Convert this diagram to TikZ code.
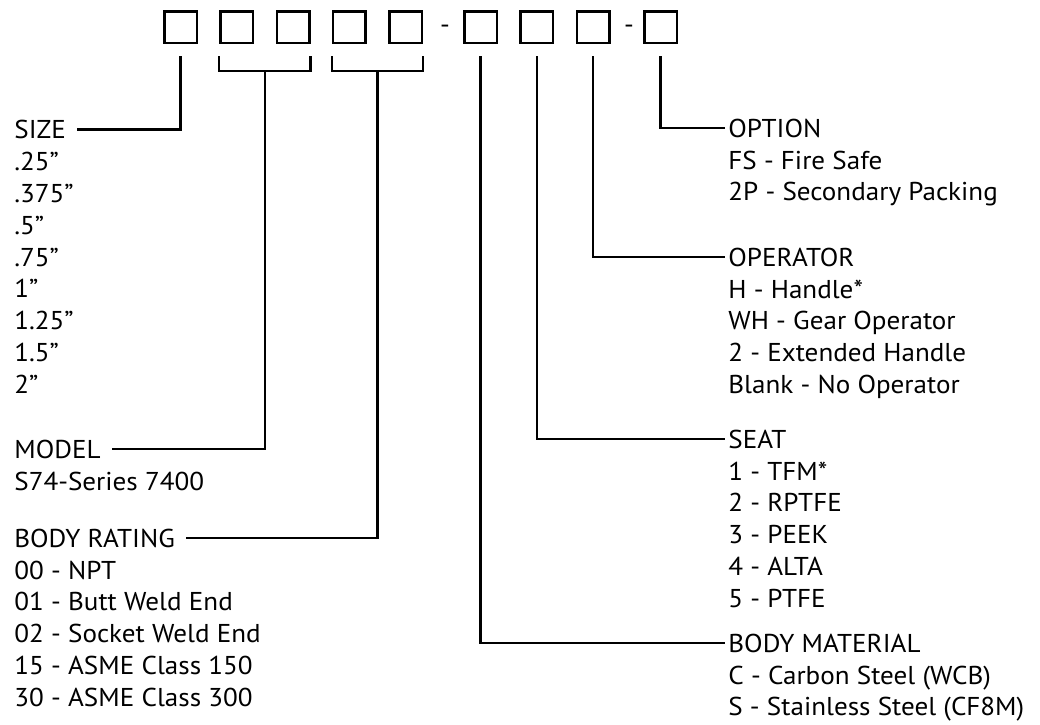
\documentclass[tikz,border=0pt]{standalone}
\usepackage{fontspec}
\setmainfont{PT Sans}[FakeStretch=1.05]
\usetikzlibrary{calc}

\begin{document}
\begin{tikzpicture}[x=.5pt, y=-.5pt,
    font=\fontsize{12.9pt}{15.9pt}\selectfont,
    digit/.style={draw, line width=1.25pt, minimum width=16.25pt,
      minimum height=15.75pt, inner sep=0pt},
    lead/.style={line width=1.2pt},
    headL/.style={anchor=base west, inner xsep=5.5pt, inner ysep=0pt},
    headR/.style={anchor=base west, inner xsep=1.5pt, inner ysep=0pt},
    entries/.style={anchor=north west, align=left, inner sep=0pt}]
  \useasboundingbox (0,0) rectangle (1040,724);
  % code boxes
  \foreach \n/\x in {1/180.5, 2/236.75, 3/293, 4/349.25, 5/405.5,
                     6/480.5, 7/536.75, 8/593, 9/660.5}
    \node[digit] (b\n) at (\x,27) {};
  \node[anchor=base] (dash1) at (445,33) {-};
  \node[anchor=base] (dash2) at (629,33) {-};

  % left side
  \node[headL] (size) at (3,138.5) {SIZE};
  \node[entries] (sizes) at ([xshift=5.5pt,yshift=-4.75pt]size.base west)
    {\strut.25''\\ .375''\\ .5''\\ .75''\\ 1''\\ 1.25''\\ 1.5''\\ 2''};
  \node[headL] (model) at (3,458) {MODEL};
  \node[entries] (models) at ([xshift=5.5pt,yshift=-4.75pt]model.base west)
    {\strut S74-Series 7400};
  \node[headL] (rating) at (3,547) {BODY RATING};
  \node[entries] (ratings) at ([xshift=5.5pt,yshift=-4.75pt]rating.base west)
    {\strut 00 - NPT\\ 01 - Butt Weld End\\ 02 - Socket Weld End\\
     15 - ASME Class 150\\ 30 - ASME Class 300};

  % right side
  \node[headR] (option) at (725,137) {OPTION};
  \node[entries] (options) at ([xshift=1.5pt,yshift=-4.75pt]option.base west)
    {\strut FS - Fire Safe\\ 2P - Secondary Packing};
  \node[headR] (operator) at (725,266) {OPERATOR};
  \node[entries] (operators) at ([xshift=1.5pt,yshift=-4.75pt]operator.base west)
    {\strut H - Handle*\\ WH - Gear Operator\\ 2 - Extended Handle\\
     Blank - No Operator};
  \node[headR] (seat) at (725,448) {SEAT};
  \node[entries] (seats) at ([xshift=1.5pt,yshift=-4.75pt]seat.base west)
    {\strut 1 - TFM*\\ 2 - RPTFE\\ 3 - PEEK\\ 4 - ALTA\\ 5 - PTFE};
  \node[headR] (material) at (725,652) {BODY MATERIAL};
  \node[entries] (materials) at ([xshift=1.5pt,yshift=-4.75pt]material.base west)
    {\strut C - Carbon Steel (WCB)\\ S - Stainless Steel (CF8M)};

  % leaders
  \coordinate (m1) at ($(b2.south west)!.5!(b3.south east)$);
  \coordinate (m2) at ($(b4.south west)!.5!(b5.south east)$);
  \draw[lead] ([yshift=-6pt]b1.south) |- (size.east);
  \draw[lead] ([yshift=-6pt]b2.south west) -- ([yshift=-13.5pt]b2.south west)
        -| ([yshift=-6pt]b3.south east);
  \draw[lead] ([yshift=-13.5pt]m1) |- (model.east);
  \draw[lead] ([yshift=-6pt]b4.south west) -- ([yshift=-13.5pt]b4.south west)
        -| ([yshift=-6pt]b5.south east);
  \draw[lead] ([yshift=-13.5pt]m2) |- (rating.east);
  \draw[lead] ([yshift=-6pt]b6.south) |- (material.west);
  \draw[lead] ([yshift=-6pt]b7.south) |- (seat.west);
  \draw[lead] ([yshift=-6pt]b8.south) |- (operator.west);
  \draw[lead] ([yshift=-6pt]b9.south) |- (option.west);
\end{tikzpicture}
\end{document}
